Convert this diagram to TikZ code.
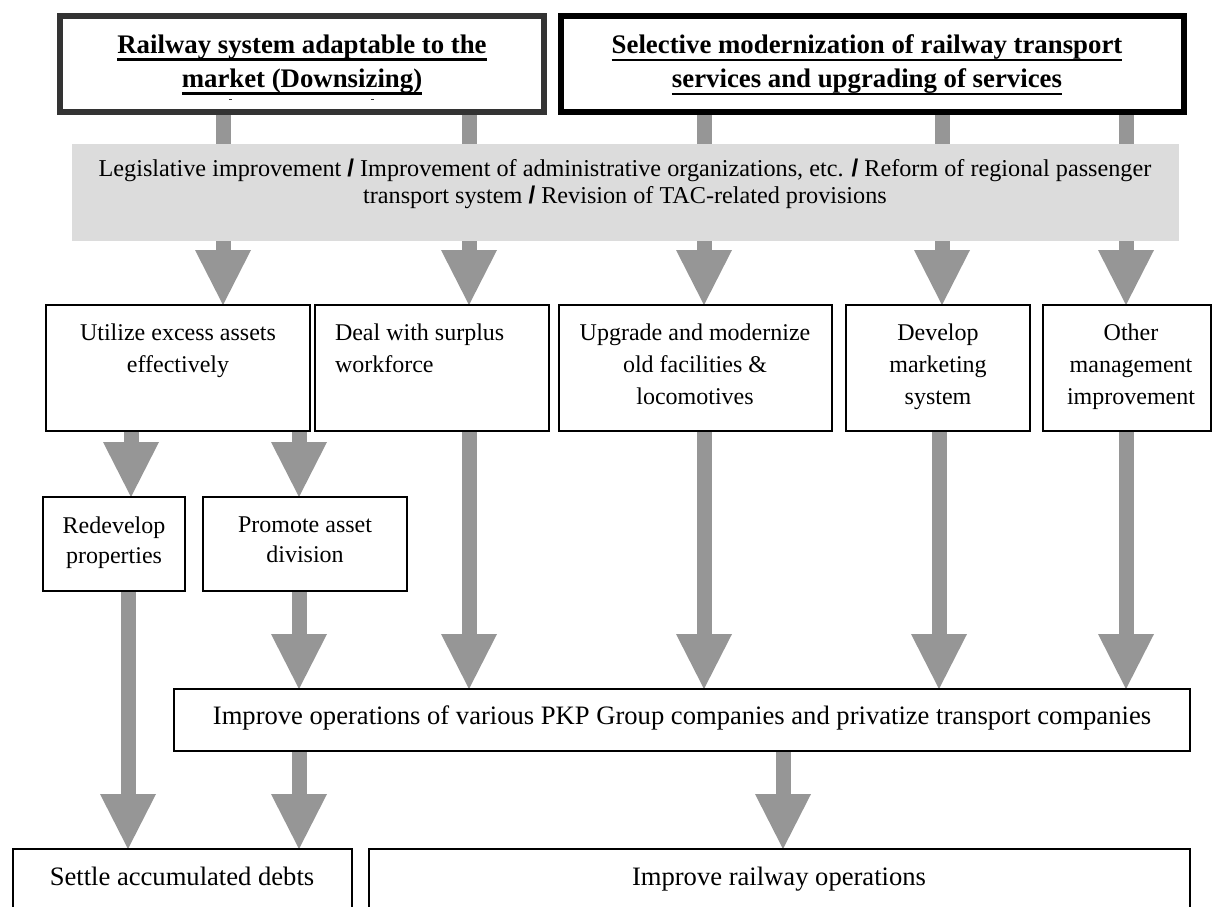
\documentclass[tikz,border=0pt]{standalone}
\usepackage{fontspec}
\setmainfont{Liberation Serif}
\newfontfamily\slashfont{Liberation Sans}
\usetikzlibrary{arrows.meta,backgrounds}
\definecolor{flowgray}{HTML}{969696}
\definecolor{bandgray}{HTML}{DCDCDC}
\definecolor{frameA}{HTML}{333333}
\newcommand{\sep}{{\slashfont\bfseries /}}
% heavy underline placed just below the descenders
\newcommand{\heavyul}[1]{\setbox0\hbox{#1}\rlap{\rule[-7.2pt]{\wd0}{2.4pt}}\box0}

\begin{document}
\begin{tikzpicture}[x=1pt,y=-1pt,
  every node/.style={inner sep=0pt,outer sep=0pt},
  box/.style={draw=black,line width=1.8pt,fill=white,anchor=north west},
  headbox/.style={box,line width=6pt},
  fat/.style={draw=flowgray,line width=15pt,-{Triangle[width=56pt,length=55pt,line width=0pt]}},
  stub/.style={draw=flowgray,line width=15pt},
  title/.style={font=\fontsize{26.8}{34}\selectfont\bfseries,align=center,anchor=north},
  lbl/.style={font=\fontsize{24}{32}\selectfont,align=center,anchor=north},
  lblsm/.style={font=\fontsize{24}{30}\selectfont,align=center,anchor=north},
  lblbig/.style={font=\fontsize{26.6}{32}\selectfont,anchor=north},
]
\useasboundingbox (0,0) rectangle (1215,907);

% top goals
\node[headbox,draw=frameA,minimum width=484pt,minimum height=96pt] (top1) at (60,16) {};
\node[headbox,minimum width=623pt,minimum height=96pt] (top2) at (561,16) {};
\node[title] (t1) at (302,35) {\heavyul{Railway system adaptable to the}\\\heavyul{market (Downsizing)}};
\node[title] (t2) at (867,35) {\heavyul{Selective modernization of railway transport}\\\heavyul{services and upgrading of services}};
\draw[frameA,line width=1pt] (229,99) -- (232,99) (371,99) -- (374,99);

% common framework band
\node[fill=bandgray,anchor=north west,minimum width=1107pt,minimum height=97pt] (bnd) at (72,144) {};
\node[lbl,font=\fontsize{24.2}{27}\selectfont] (bt) at (625,158.5)
  {Legislative improvement \sep{} Improvement of administrative organizations, etc. \sep{} Reform of regional passenger\\
   transport system \sep{} Revision of TAC-related provisions};

% measures
\node[box,minimum width=264pt,minimum height=126pt] (util) at (46,305) {};
\node[box,minimum width=234pt,minimum height=126pt] (deal) at (315,305) {};
\node[box,minimum width=273pt,minimum height=126pt] (upgr) at (559,305) {};
\node[box,minimum width=184pt,minimum height=126pt] (devl) at (846,305) {};
\node[box,minimum width=168pt,minimum height=126pt] (othr) at (1043,305) {};
\node[lbl] (utilT) at (178,323.6) {Utilize excess assets\\effectively};
\node[lbl,anchor=north west,align=left] (dealT) at (335,323.6) {Deal with surplus\\workforce};
\node[lbl] (upgrT) at (695,323.6) {Upgrade and modernize\\old facilities \&\\locomotives};
\node[lbl] (devlT) at (938,323.6) {Develop\\marketing\\system};
\node[lbl] (othrT) at (1131,323.6) {Other\\management\\improvement};

\node[box,minimum width=142pt,minimum height=94pt] (redev) at (43,497) {};
\node[box,minimum width=204pt,minimum height=94pt] (promo) at (203,497) {};
\node[lblsm] (redevT) at (114,516.6) {Redevelop\\properties};
\node[lblsm] (promoT) at (305,516.6) {Promote asset\\division};

\node[box,minimum width=1016pt,minimum height=62pt] (ops) at (174,689) {};
\node[lblbig] (opsT) at (682,706) {Improve operations of various PKP Group companies and privatize transport companies};

% results
\node[box,minimum width=339pt,minimum height=80pt] (settle) at (13,849) {};
\node[box,minimum width=821pt,minimum height=80pt] (rail) at (369,849) {};
\node[lblbig] (settleT) at (182,867) {Settle accumulated debts};
\node[lblbig] (railT) at (779,867) {Improve railway operations};

% arrow columns
\coordinate (s1) at (223,0);
\coordinate (s2) at (469,0);
\coordinate (s3) at (704,0);
\coordinate (s4) at (942,0);
\coordinate (s5) at (1126,0);
\coordinate (m4) at (939,0);
\coordinate (r0) at (128,0);
\coordinate (r1) at (131,0);
\coordinate (r2) at (299,0);
\coordinate (q1) at (783,0);

\begin{scope}[on background layer]
  \draw[stub] (top1.south -| s1) -- (bnd.north -| s1);
  \draw[stub] (top1.south -| s2) -- (bnd.north -| s2);
  \draw[stub] (top2.south -| s3) -- (bnd.north -| s3);
  \draw[stub] (top2.south -| s4) -- (bnd.north -| s4);
  \draw[stub] (top2.south -| s5) -- (bnd.north -| s5);

  \draw[fat] (bnd.south -| s1) -- (util.north -| s1);
  \draw[fat] (bnd.south -| s2) -- (deal.north -| s2);
  \draw[fat] (bnd.south -| s3) -- (upgr.north -| s3);
  \draw[fat] (bnd.south -| s4) -- (devl.north -| s4);
  \draw[fat] (bnd.south -| s5) -- (othr.north -| s5);

  \draw[fat] (util.south -| r1) -- (redev.north -| r1);
  \draw[fat] (util.south -| r2) -- (promo.north -| r2);

  \draw[fat] (promo.south -| r2) -- (ops.north -| r2);
  \draw[fat] (deal.south -| s2) -- (ops.north -| s2);
  \draw[fat] (upgr.south -| s3) -- (ops.north -| s3);
  \draw[fat] (devl.south -| m4) -- (ops.north -| m4);
  \draw[fat] (othr.south -| s5) -- (ops.north -| s5);

  \draw[fat] (redev.south -| r0) -- (settle.north -| r0);
  \draw[fat] (ops.south -| r2) -- (settle.north -| r2);
  \draw[fat] (ops.south -| q1) -- (rail.north -| q1);
\end{scope}
\end{tikzpicture}
\end{document}
